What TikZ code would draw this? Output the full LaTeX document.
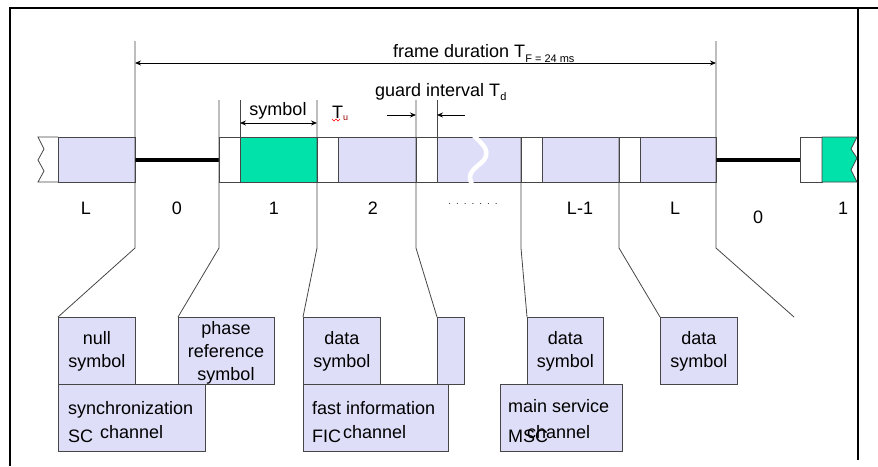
\documentclass[tikz,border=0pt]{standalone}
\usepackage{fontspec}
\setmainfont{Liberation Sans}
\usetikzlibrary{arrows.meta}
\definecolor{lav}{RGB}{222,222,248}
\definecolor{mint}{RGB}{0,226,170}
\definecolor{edge}{RGB}{70,70,70}
\begin{document}
\begin{tikzpicture}[x=1pt,y=-1pt,
  every node/.style={inner sep=0pt,font=\fontsize{18}{23}\selectfont},
  cell/.style={draw=edge,line width=0.8pt},
  box/.style={draw=edge,fill=lav,line width=0.8pt,anchor=north west,align=center,minimum height=67pt},
  lead/.style={draw=edge,line width=0.8pt},
  dim/.style={line width=0.8pt,{Stealth[length=6pt,width=5pt]}-{Stealth[length=6pt,width=5pt]}},
  halfdim/.style={line width=0.8pt,-{Stealth[length=6pt,width=5pt]}},
  sub/.style={font=\fontsize{11}{11}\selectfont}
]
\useasboundingbox (0,0) rectangle (878,466);
% outer frame
\draw[line width=1.5pt] (10,466) -- (10,8) -- (878,8);
\draw[line width=1.5pt] (858,8) -- (858,460);

% the transmission frame
\filldraw[cell,fill=white] (58,137) -- (38,137) -- (44,149) -- (38,160) -- (44,171) -- (38,182) -- (58,182);
\filldraw[cell,fill=lav] (58,137) rectangle (135,182);
\draw[line width=4pt] (135,160) -- (219,160);
\foreach \a/\b/\c in {219/240/white,240/317/mint,317/338/white,338/416/lav,416/437/white,
  437/521/lav,521/542/white,542/619/lav,619/640/white,640/716/lav}
  \filldraw[cell,fill=\c] (\a,137) rectangle (\b,182);
\draw[white,line width=4.5pt] (472,133) .. controls (478,142) and (492,148) .. (484,160)
  .. controls (477,168) and (464,172) .. (473,186);
\draw[line width=4pt] (716,160) -- (800,160);
\filldraw[cell,fill=white] (800,137) rectangle (822,182);
\filldraw[cell,fill=mint] (822,137) -- (857,137) -- (851,149) -- (857,158) -- (851,170) -- (857,182) -- (822,182) -- cycle;

% ticks above the frame
\draw[lead] (240,100) -- (240,137);
\draw[lead] (437,100) -- (437,137);

% symbol numbers
\node (labL) at (86,208) {L};
\node (lab0) at (177,208) {0};
\node (lab1) at (274,208) {1};
\node (lab2) at (373,208) {2};
\node (labdots) at (473,204) {\fontsize{10}{10}\selectfont$\cdot\;\cdot\;\cdot\;\cdot\;\cdot\;\cdot\;\cdot$};
\node (labLm) at (580,208) {L-1};
\node (labLL) at (675,208) {L};
\node (labnext0) at (758,217) {0};
\node (labnext1) at (843,208) {1};

% durations
\coordinate (fs) at (135,63);
\coordinate (fe) at (716,63);
\draw[dim] (fs) -- (fe);
\node[anchor=base west] (frametxt) at (393,57) {frame duration T\raisebox{-5pt}{\fontsize{11}{11}\selectfont F = 24 ms}};
\node[anchor=base west] (guardtxt) at (375,96) {guard interval T\raisebox{-4pt}{\fontsize{11}{11}\selectfont d}};
\draw[halfdim] (387,115) -- (416,115);
\draw[halfdim] (465,115) -- (437,115);
\draw[dim] (240,123) -- (317,123);
\node[anchor=base] (symtxt) at (278,115) {symbol};
\node[anchor=base west] (tutxt) at (332,118) {T\raisebox{-2pt}{\fontsize{9}{9}\selectfont\color{red!60!black}u}};
\draw[red,line width=0.6pt] (332,119) -- (334,121) -- (336,119) -- (338,121) -- (340,119);

% boxes below
\node[box,minimum width=77pt] (nullsym) at (58,317) {null\\symbol};
\node[box,minimum width=96pt] (phasesym) at (178,317) {};
\node[box,minimum width=147pt] (syncch) at (58,384) {};
\node[box,minimum width=77pt] (ficsym) at (303,317) {data\\symbol};
\node[box,minimum width=27pt] (gapsym) at (437,317) {};
\node[box,minimum width=145pt] (ficch) at (303,384) {};
\node[box,minimum width=76pt] (mscsym) at (527,317) {data\\symbol};
\node[box,minimum width=122pt] (mscch) at (500,384) {};
\node[box,minimum width=77pt] (lastsym) at (660,317) {data\\symbol};
\node[align=center] (phasetxt) at (226,353) {phase\\reference\\symbol};

\node[anchor=base west] (synctxt) at (68,414) {synchronization};
\node[anchor=base west] (sctxt) at (68,442) {SC};
\node[anchor=base west] (scch) at (100,438) {channel};
\node[anchor=base west] (fictxt) at (312,414) {fast information};
\node[anchor=base west] (fic) at (312,442) {FIC};
\node[anchor=base west] (ficchtxt) at (343,438) {channel};
\node[anchor=base west] (msctxt) at (508,412) {main service};
\node[anchor=base west] (msc) at (508,442) {MSC};
\node[anchor=base west] (mscchtxt) at (527,438) {channel};

% leads from the frame to the boxes
\coordinate (t0) at (135,41);  \coordinate (b0) at (135,248);
\coordinate (t1) at (219,100); \coordinate (b1) at (219,248);
\coordinate (t2) at (317,100); \coordinate (b2) at (317,248);
\coordinate (t3) at (416,100); \coordinate (b3) at (416,248);
\coordinate (t4) at (521,137); \coordinate (b4) at (521,248);
\coordinate (t5) at (619,137); \coordinate (b5) at (619,248);
\coordinate (t6) at (716,41);  \coordinate (b6) at (716,248);
\coordinate (openend) at (794,317);
\draw[lead] (t0) -- (b0) -- (nullsym.north west);
\draw[lead] (t1) -- (b1) -- (phasesym.north west);
\draw[lead] (t2) -- (b2) -- (ficsym.north west);
\draw[lead] (t3) -- (b3) -- (gapsym.north west);
\draw[lead] (t4) -- (b4) -- (mscsym.north west);
\draw[lead] (t5) -- (b5) -- (lastsym.north west);
\draw[lead] (t6) -- (b6) -- (openend);
\end{tikzpicture}
\end{document}
